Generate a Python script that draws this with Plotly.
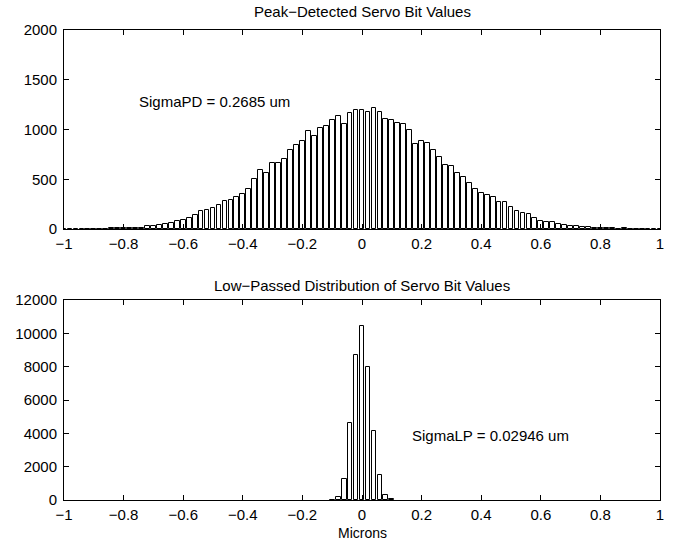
import plotly.graph_objects as go
from plotly.subplots import make_subplots

# Top histogram: peak-detected values (bin centres, counts)
pd_centers = [round(-1.0 + 0.02 * i, 2) for i in range(101)]
pd_counts = [
    0, 0, 1, 1, 2, 2, 3, 4, 6, 8,
    12, 10, 14, 15, 30, 30, 44, 47, 64, 81,
    95, 112, 145, 177, 186, 208, 238, 282, 292, 318,
    355, 402, 500, 592, 565, 662, 662, 704, 795, 840,
    881, 984, 938, 1014, 1040, 1096, 1139, 1055, 1164, 1191,
    1199, 1176, 1213, 1172, 1102, 1092, 1070, 1057, 996, 854,
    882, 862, 792, 727, 640, 631, 565, 522, 466, 405,
    366, 343, 325, 270, 268, 220, 180, 163, 152, 111,
    84, 72, 70, 50, 39, 35, 28, 22, 18, 13,
    10, 12, 6, 4, 6, 2, 1, 1, 0, 0,
    0,
]

# Bottom histogram: low-passed values
lp_centers = [-0.10, -0.08, -0.06, -0.04, -0.02, 0.0, 0.02, 0.04, 0.06, 0.08, 0.10]
lp_counts = [20, 160, 1260, 4620, 8700, 10450, 8000, 4160, 1500, 300, 60]

x_ticks = [-1, -0.8, -0.6, -0.4, -0.2, 0, 0.2, 0.4, 0.6, 0.8, 1]
x_labels = ["\u22121", "\u22120.8", "\u22120.6", "\u22120.4", "\u22120.2", "0",
            "0.2", "0.4", "0.6", "0.8", "1"]
top_yticks = [0, 500, 1000, 1500, 2000]
top_ylabels = ["0", "500", "1000", "1500", "2000"]
bot_yticks = [0, 2000, 4000, 6000, 8000, 10000, 12000]
bot_ylabels = ["0", "2000", "4000", "6000", "8000", "10000", "12000"]

FONT = "Liberation Sans, Arial, Helvetica, sans-serif"
FS = 15

fig = make_subplots(rows=2, cols=1, vertical_spacing=0.1511)

fig.add_trace(go.Bar(x=pd_centers, y=pd_counts, width=0.016,
                     marker=dict(color="white", line=dict(color="black", width=1)),
                     showlegend=False), row=1, col=1)
fig.add_trace(go.Bar(x=lp_centers, y=lp_counts, width=0.016,
                     marker=dict(color="white", line=dict(color="black", width=1)),
                     showlegend=False), row=2, col=1)

axis_common = dict(showline=True, linecolor="black", linewidth=1, mirror="ticks",
                   ticks="inside", ticklen=5, tickcolor="black", showgrid=False,
                   zeroline=False, tickfont=dict(family=FONT, size=FS, color="black"))

for r in (1, 2):
    fig.update_xaxes(range=[-1, 1], tickvals=x_ticks, ticktext=x_labels,
                     ticklabelstandoff=1, row=r, col=1, **axis_common)
fig.update_yaxes(range=[0, 2000], tickvals=top_yticks, ticktext=top_ylabels,
                 ticklabelstandoff=3, row=1, col=1, **axis_common)
fig.update_yaxes(range=[0, 12000], tickvals=bot_yticks, ticktext=bot_ylabels,
                 ticklabelstandoff=3, row=2, col=1, **axis_common)

fig.update_layout(
    width=681, height=541,
    margin=dict(l=64, r=21, t=30, b=41),
    paper_bgcolor="white", plot_bgcolor="white",
    bargap=0,
    font=dict(family=FONT, size=FS, color="black"),
)
fig.update_layout(yaxis=dict(domain=[0.5766, 1.0]), yaxis2=dict(domain=[0.0, 0.4255]))

fig.add_annotation(text="Peak\u2212Detected Servo Bit Values", xref="paper", yref="paper",
                   x=0.5, y=1.0383, showarrow=False, xanchor="center", yanchor="middle",
                   font=dict(family=FONT, size=FS, color="black"))
fig.add_annotation(text="Low\u2212Passed Distribution of Servo Bit Values", xref="paper",
                   yref="paper", x=0.5, y=0.4574, showarrow=False, xanchor="center",
                   yanchor="middle", font=dict(family=FONT, size=FS, color="black"))
fig.add_annotation(text="Microns", xref="paper", yref="paper", x=0.5, y=-0.0695,
                   showarrow=False, xanchor="center", yanchor="middle",
                   font=dict(family=FONT, size=14, color="black"))
fig.add_annotation(text="SigmaPD = 0.2685 um", xref="x", yref="y", x=-0.755, y=1286,
                   showarrow=False, xanchor="left", yanchor="middle",
                   font=dict(family=FONT, size=FS, color="black"))
fig.add_annotation(text="SigmaLP = 0.02946 um", xref="x2", yref="y2", x=0.161, y=3900,
                   showarrow=False, xanchor="left", yanchor="middle",
                   font=dict(family=FONT, size=FS, color="black"))

fig.write_html("out.html")
